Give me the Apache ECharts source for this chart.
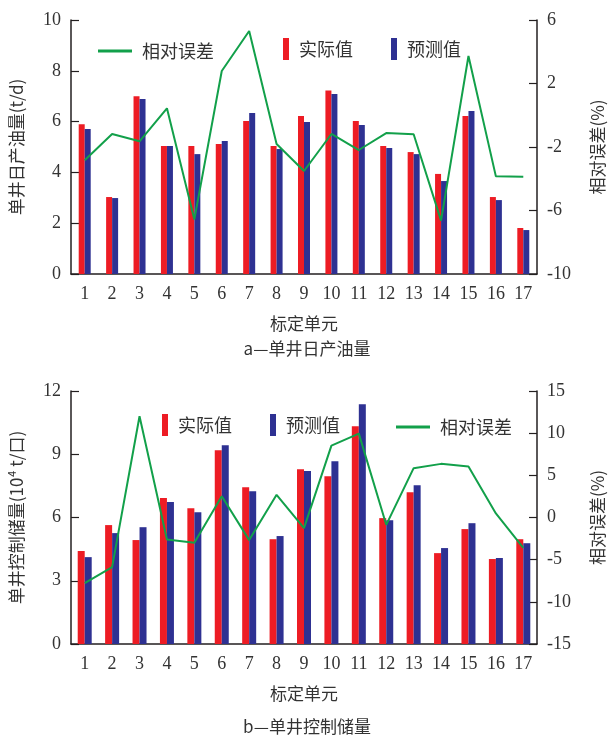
<!DOCTYPE html>
<html>
<head>
<meta charset="utf-8">
<script src="https://cdn.jsdelivr.net/npm/echarts@6/dist/echarts.min.js"></script>
<style>
  html, body { margin: 0; padding: 0; background: #fff; }
  #chart { width: 614px; height: 736px; }
</style>
</head>
<body>
<div id="chart"></div>
<script>
"use strict";
// categories shared by both panels
const units = ["1","2","3","4","5","6","7","8","9","10","11","12","13","14","15","16","17"];

// a — 单井日产油量 (t/d)
const oilActual  = [5.90, 3.03, 7.00, 5.04, 5.04, 5.12, 6.02, 5.04, 6.22, 7.22, 6.02, 5.04, 4.80, 3.94, 6.22, 3.03, 1.81];
const oilPredict = [5.71, 2.99, 6.89, 5.04, 4.72, 5.24, 6.34, 4.92, 5.98, 7.09, 5.87, 4.96, 4.72, 3.66, 6.42, 2.91, 1.73];
const oilError   = [-2.84, -1.18, -1.64, 0.44, -6.56, 2.79, 5.31, -1.81, -3.51, -1.18, -2.19, -1.12, -1.20, -6.64, 3.73, -3.85, -3.88];

// b — 单井控制储量 (10^4 t/口)
const resActual  = [4.41, 5.64, 4.93, 6.92, 6.44, 9.19, 7.44, 4.97, 8.29, 7.96, 10.33, 5.97, 7.20, 4.31, 5.45, 4.03, 4.97];
const resPredict = [4.12, 5.26, 5.54, 6.73, 6.25, 9.43, 7.25, 5.12, 8.20, 8.67, 11.37, 5.87, 7.53, 4.55, 5.73, 4.08, 4.78];
const resError   = [-7.77, -5.88, 12.0, -2.6, -3.0, 2.53, -2.68, 2.69, -1.26, 8.53, 9.95, -0.87, 5.85, 6.36, 6.04, 0.48, -3.59];

const RED = "#ed1c24", BLUE = "#2e3192", GREEN = "#12a04a", INK = "#231f20";
const NUM_FONT = "Liberation Serif";
const CJK_FONT = "Noto Sans CJK SC";

const chart = echarts.init(document.getElementById("chart"));

function xAxisOf(gridIndex) {
  return {
    type: "category", gridIndex, data: units,
    name: "标定单元", nameLocation: "middle", nameGap: 41,
    nameTextStyle: { fontFamily: CJK_FONT, fontSize: 17, color: "#333" },
    axisLine: { lineStyle: { color: INK, width: 1.5 } },
    axisTick: { inside: true, length: 8, lineStyle: { color: INK, width: 1.2 } },
    axisLabel: { fontFamily: NUM_FONT, fontSize: 18, color: "#333", margin: 11, interval: 0 }
  };
}
function yAxisOf(gridIndex, pos, min, max, interval, name, nameGap) {
  return {
    type: "value", gridIndex, position: pos, min, max, interval,
    name, nameLocation: "middle", nameGap, nameRotate: 90,
    nameTextStyle: { fontFamily: CJK_FONT, fontSize: 17, color: "#333" },
    splitLine: { show: false },
    axisLine: { show: true, lineStyle: { color: INK, width: 1.5 } },
    axisTick: { show: true, inside: true, length: 8, lineStyle: { color: INK, width: 1.2 } },
    axisLabel: { fontFamily: NUM_FONT, fontSize: 18, color: "#333", margin: 10 }
  };
}
function legendOf(name, left, top, w, h, icon) {
  return {
    data: [{ name, icon }], left, top, itemWidth: w, itemHeight: h,
    selectedMode: false,
    textStyle: { fontFamily: CJK_FONT, fontSize: 18, color: "#333", padding: [0, 0, 0, 5] }
  };
}
function barOf(name, data, color, xi, yi) {
  return {
    name, type: "bar", data, xAxisIndex: xi, yAxisIndex: yi,
    barWidth: xi === 0 ? 6 : 7, barGap: "0%",
    itemStyle: { color }
  };
}
function lineOf(data, xi, yi) {
  return {
    name: "相对误差", type: "line", data, xAxisIndex: xi, yAxisIndex: yi,
    symbol: "none", lineStyle: { color: GREEN, width: 2 }, itemStyle: { color: GREEN }, z: 5
  };
}

const option = {
  backgroundColor: "#fff",
  animation: false,
  title: [
    { text: "a—单井日产油量", left: "center", top: 335,
      textStyle: { fontFamily: CJK_FONT, fontSize: 17, fontWeight: "normal", color: "#333" } },
    { text: "b—单井控制储量", left: "center", top: 713,
      textStyle: { fontFamily: CJK_FONT, fontSize: 17, fontWeight: "normal", color: "#333" } }
  ],
  legend: [
    legendOf("相对误差", 93, 37, 34, 3, "rect"),
    legendOf("实际值", 278, 33, 6, 22, "rect"),
    legendOf("预测值", 386, 33, 6, 22, "rect"),
    legendOf("实际值", 157, 409, 6, 22, "rect"),
    legendOf("预测值", 265, 409, 6, 22, "rect"),
    legendOf("相对误差", 391, 413, 34, 3, "rect")
  ],
  grid: [
    { left: 68, right: 68, top: 20, height: 254 },
    { left: 69, right: 68, top: 391, height: 253 }
  ],
  xAxis: [xAxisOf(0), xAxisOf(1)],
  yAxis: [
    yAxisOf(0, "left", 0, 10, 2, "单井日产油量(t/d)", 46),
    yAxisOf(0, "right", -10, 6, 4, "相对误差(%)", 52),
    yAxisOf(1, "left", 0, 12, 3, "单井控制储量(10⁴ t/口)", 46),
    yAxisOf(1, "right", -15, 15, 5, "相对误差(%)", 52)
  ],
  series: [
    barOf("实际值", oilActual, RED, 0, 0),
    barOf("预测值", oilPredict, BLUE, 0, 0),
    lineOf(oilError, 0, 1),
    barOf("实际值", resActual, RED, 1, 2),
    barOf("预测值", resPredict, BLUE, 1, 2),
    lineOf(resError, 1, 3)
  ]
};
chart.setOption(option);
</script>
</body>
</html>
